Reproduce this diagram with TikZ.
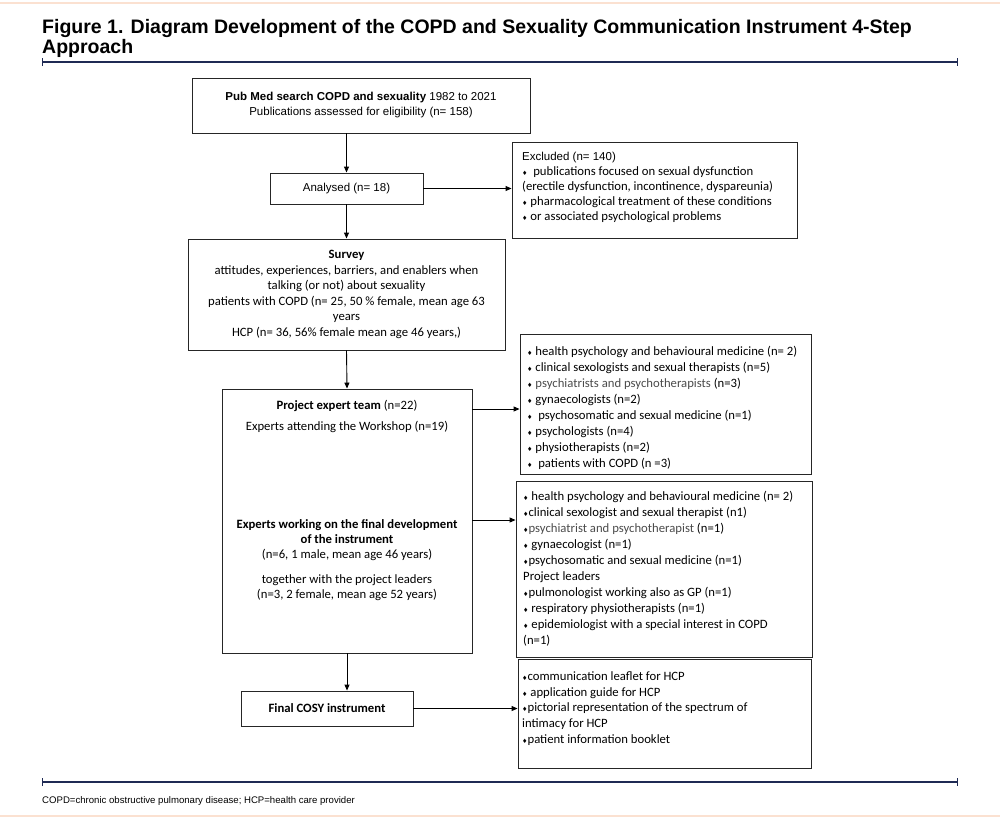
\documentclass[tikz,border=0pt]{standalone}
\usepackage{fontspec}
\setmainfont{Carlito}
\newfontfamily\arialfont{Liberation Sans}
\newfontfamily\symfont{DejaVu Sans}
\usetikzlibrary{arrows.meta}
\definecolor{rulenavy}{RGB}{31,42,84}
\definecolor{pagepeach}{RGB}{251,225,209}
\definecolor{greytext}{RGB}{75,75,75}
\tikzstyle{b} = [draw=black!85, line width=0.9pt, inner sep=0pt]
\newcommand{\bul}{{\symfont\fontsize{6}{6}\selectfont ♦}}

\begin{document}
\begin{tikzpicture}[x=1pt,y=-1pt,
			arr/.style={line width=0.9pt,-{Triangle[length=6pt,width=5pt]}},
			txt/.style={inner sep=0pt,font=\fontsize{12.7}{15.5}\selectfont},
			list/.style={inner sep=0pt,anchor=west,align=left,font=\fontsize{12.7}{16}\selectfont},
			sans/.style={inner sep=0pt,font=\arialfont\fontsize{11.5}{15}\selectfont},
			rule/.style={rulenavy,line width=1.4pt,{Bar[width=8pt]}-{Bar[width=8pt]}}]
			\useasboundingbox (0,0) rectangle (1000,819);
			\draw[pagepeach,line width=2.5pt] (0,3) -- (1000,3);
			\draw[pagepeach,line width=2.5pt] (0,816) -- (1000,816);
			
			\node (title)[anchor=north west,inner sep=0pt,align=left,font=\arialfont\bfseries\fontsize{19.5}{20}\selectfont] at (42,19)
			{Figure 1. Diagram Development of the COPD and Sexuality Communication Instrument 4-Step\\Approach};
			\draw[rule] (42,62) -- (958,62);
			\draw[rule] (42,782) -- (958,782);
			\node (note)[anchor=west,inner sep=0pt,font=\arialfont\fontsize{9.6}{11}\selectfont] at (42,801)
			{COPD=chronic obstructive pulmonary disease; HCP=health care provider};
			
			\node (pubmed)[b,sans,align=center,minimum width=338pt,minimum height=55pt] at (361,105.5)
			{\textbf{Pub Med search COPD and sexuality} 1982 to 2021\\Publications assessed for eligibility (n= 158)};
			\node (analysed)[b,sans,minimum width=153pt,minimum height=31pt] at (346.5,188.5) {Analysed (n= 18)};
			\node (excl)[b,minimum width=285pt,minimum height=96pt] at (654.5,190) {};
			\node (excltxt)[list,font=\fontsize{12.7}{15}\selectfont] at (522,187)
			{{\arialfont\fontsize{11.5}{15}\selectfont Excluded (n= 140)}\\
			\bul\ \ publications focused on sexual dysfunction\\
			(erectile dysfunction, incontinence, dyspareunia)\\
			\bul\ pharmacological treatment of these conditions\\
			\bul\ or associated psychological problems};
			
			\node (survey)[b,txt,align=center,minimum width=317pt,minimum height=111pt] at (346.5,294.5)
			{\textbf{Survey}\\
			attitudes, experiences, barriers, and enablers when\\
			talking (or not) about sexuality\\
			patients with COPD (n= 25, 50 \% female, mean age 63\\
			years\\
			HCP (n= 36, 56\% female mean age 46 years,)};
			
			\node (proj)[b,minimum width=250pt,minimum height=264pt] at (347,521) {};
			\node (projtop)[txt,align=center] at (347,416.5)
			{\textbf{Project expert team} (n=22)\\[5.5pt]Experts attending the Workshop (n=19)};
			\node (projbot)[txt,align=center,font=\fontsize{12.7}{15}\selectfont] at (347,560)
			{\textbf{Experts working on the final development}\\
			\textbf{of the instrument}\\
			(n=6, 1 male, mean age 46 years)\\[10pt]
			together with the project leaders\\
			(n=3, 2 female, mean age 52 years)};
			
			\node (list1)[b,minimum width=291pt,minimum height=140pt] at (665.5,404) {};
			\node (list1txt)[list] at (527,408)
			{\bul\ health psychology and behavioural medicine (n= 2)\\
			\bul\ clinical sexologists and sexual therapists (n=5)\\
			\bul\ {\color{greytext}psychiatrists and psychotherapists} (n=3)\\
			\bul\ gynaecologists (n=2)\\
			\bul\ \ psychosomatic and sexual medicine (n=1)\\
			\bul\ psychologists (n=4)\\
			\bul\ physiotherapists (n=2)\\
			\bul\ \ patients with COPD (n =3)};
			
			\node (list2)[b,minimum width=296pt,minimum height=176pt] at (664,569) {};
			\node (list2txt)[list] at (523,569)
			{\bul\ health psychology and behavioural medicine (n= 2)\\
			\bul clinical sexologist and sexual therapist (n1)\\
			\bul{\color{greytext}psychiatrist and psychotherapist} (n=1)\\
			\bul\ gynaecologist (n=1)\\
			\bul psychosomatic and sexual medicine (n=1)\\
			Project leaders\\
			\bul pulmonologist working also as GP (n=1)\\
			\bul\ respiratory physiotherapists (n=1)\\
			\bul\ epidemiologist with a special interest in COPD\\
			(n=1)};
			
			\node (cosy)[b,txt,minimum width=172pt,minimum height=35pt] at (327,708.5) {\textbf{Final COSY instrument}};
			\node (output)[b,minimum width=293pt,minimum height=109pt] at (664.5,713.5) {};
			\node (outputtxt)[list,font=\fontsize{12.7}{15.75}\selectfont] at (522,708.5)
			{\bul communication leaflet for HCP\\
			\bul\ application guide for HCP\\
			\bul pictorial representation of the spectrum of\\
			intimacy for HCP\\
			\bul patient information booklet};
			
			\coordinate (lvl1) at (0,409);
			\coordinate (lvl2) at (0,520);
			\draw[arr] (pubmed.south -| analysed.north) -- (analysed.north);
			\draw[arr] (analysed.south) -- (survey.north);
			\draw[arr] (survey.south) -- (proj.north);
			\draw[arr] (proj.south) -- (proj.south |- cosy.north);
			\draw[arr] (analysed.east) -- (analysed.east -| excl.west);
			\draw[arr] (proj.east |- lvl1) -- (list1.west |- lvl1);
			\draw[arr] (proj.east |- lvl2) -- (list2.west |- lvl2);
			\draw[arr] (cosy.east) -- (cosy.east -| output.west);
		\end{tikzpicture}
\end{document}
